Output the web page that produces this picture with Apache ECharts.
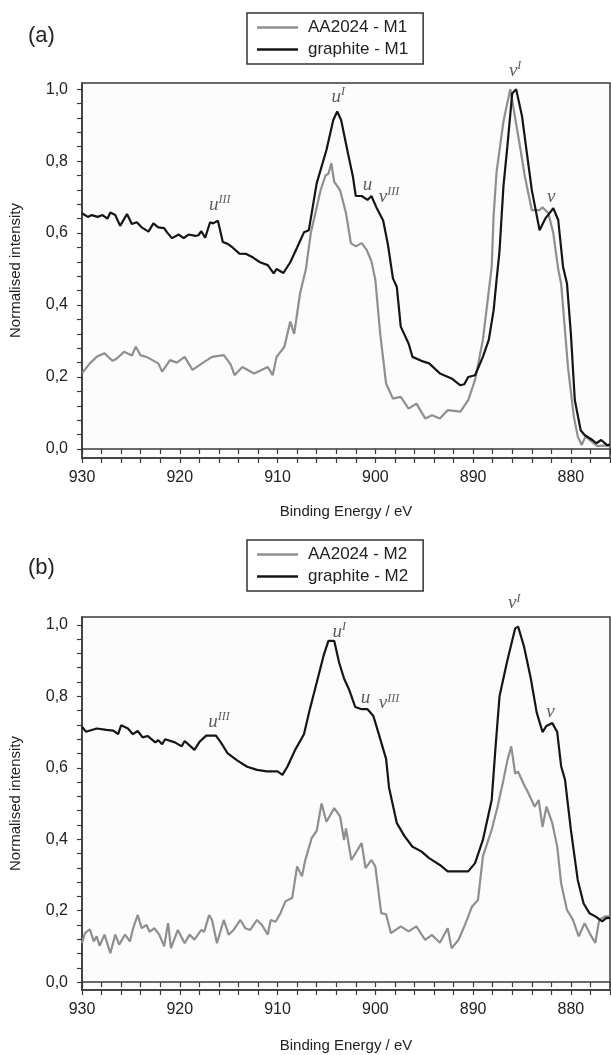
<!DOCTYPE html>
<html>
<head>
<meta charset="utf-8">
<script src="https://cdn.jsdelivr.net/npm/echarts@6/dist/echarts.min.js"></script>
<style>
html, body { margin: 0; padding: 0; background: #fff; }
#container { width: 611px; height: 1055px; }
</style>
</head>
<body>
<div id="container"></div>
<script>
// binding energy (eV), normalised intensity
var aaM1 = [
  [930,0.21],[929.2,0.238],[928.5,0.256],[927.7,0.266],[926.9,0.245],[926.5,0.25],[925.7,0.27],[924.9,0.26],
  [924.5,0.284],[924,0.26],[923.4,0.256],[922.2,0.238],[921.8,0.215],[921,0.247],[920.3,0.24],[919.5,0.256],
  [918.7,0.22],[917.5,0.242],[916.7,0.256],[915.5,0.261],[914.8,0.235],[914.4,0.205],[913.6,0.228],[912.4,0.21],
  [911,0.228],[910.5,0.205],[910.1,0.256],[909.3,0.284],[908.7,0.354],[908.3,0.32],[907.7,0.432],[907.1,0.5],
  [906.6,0.6],[905.6,0.719],[905.1,0.76],[904.8,0.765],[904.5,0.794],[904.2,0.742],[903.6,0.719],[903,0.655],
  [902.5,0.572],[902,0.563],[901.4,0.572],[900.9,0.554],[900.4,0.522],[900,0.47],[899.5,0.32],[898.9,0.182],
  [898.2,0.14],[897.4,0.145],[896.6,0.112],[895.8,0.126],[894.9,0.085],[894.2,0.094],[893.4,0.085],[892.6,0.108],
  [891.3,0.104],[890.5,0.136],[889.8,0.192],[889,0.303],[888.1,0.506],[887.9,0.65],[887.6,0.77],[886.9,0.91],
  [886.2,1.0],[885.2,0.84],[884.7,0.756],[884,0.664],[883.2,0.664],[882.9,0.672],[882.3,0.655],[881.8,0.6],
  [881.3,0.5],[881,0.46],[880.3,0.228],[879.7,0.09],[879.3,0.035],[878.9,0.011],[878.5,0.035],[877.9,0.021],
  [877.3,0.008],[876.5,0.01],[876,0.008]
];
var graphiteM1 = [
  [930,0.655],[929.4,0.645],[929,0.65],[928.4,0.645],[927.9,0.65],[927.4,0.64],[927.1,0.657],[926.6,0.65],
  [926.4,0.655],[926.1,0.62],[925.4,0.653],[924.9,0.625],[924.4,0.63],[923.9,0.616],[923.2,0.604],[922.7,0.627],
  [922.2,0.616],[921.6,0.614],[921.3,0.602],[920.8,0.586],[920.1,0.596],[919.6,0.586],[919.1,0.596],[918.4,0.592],
  [918.1,0.594],[917.8,0.605],[917.4,0.587],[916.9,0.63],[916.6,0.627],[916.1,0.634],[915.6,0.575],[915.1,0.57],
  [914.6,0.56],[913.9,0.543],[913.2,0.542],[912.5,0.532],[911.8,0.519],[911,0.511],[910.4,0.488],[910.1,0.5],
  [909.4,0.489],[908.7,0.519],[908,0.56],[907.3,0.602],[906.8,0.608],[906,0.738],[905,0.831],[904.3,0.914],
  [903.9,0.938],[903.5,0.914],[902.8,0.822],[902.3,0.758],[902,0.703],[901.4,0.703],[900.8,0.692],[900.4,0.703],
  [899.9,0.672],[899.2,0.635],[898.7,0.566],[898.2,0.474],[897.8,0.45],[897.4,0.34],[896.6,0.293],[896.2,0.256],
  [895.3,0.245],[894.5,0.238],[893.4,0.21],[892.2,0.196],[891.3,0.177],[890.9,0.18],[890.5,0.2],[889.8,0.205],
  [889,0.256],[888.4,0.303],[887.9,0.386],[887.6,0.47],[887.3,0.55],[886.9,0.729],[886.5,0.84],[886,0.988],
  [885.6,1.0],[885,0.925],[884.5,0.822],[884,0.72],[883.2,0.608],[882.6,0.641],[881.8,0.669],[881.3,0.637],
  [880.8,0.506],[880.4,0.46],[880,0.32],[879.6,0.136],[879,0.052],[878.6,0.039],[877.8,0.025],[877.4,0.016],
  [876.9,0.025],[876.3,0.011],[876,0.012]
];
var aaM2 = [
  [930,0.109],[929.7,0.137],[929.2,0.148],[928.8,0.114],[928.5,0.128],[928.2,0.102],[927.7,0.133],[927.1,0.081],
  [926.6,0.133],[926.2,0.105],[925.6,0.133],[925.1,0.114],[924.8,0.148],[924.3,0.188],[923.9,0.151],[923.4,0.16],
  [923.1,0.141],[922.6,0.151],[922.1,0.133],[921.6,0.1],[921.2,0.165],[920.9,0.095],[920.2,0.146],[919.5,0.109],
  [919,0.133],[918.5,0.119],[917.8,0.146],[917.5,0.141],[917,0.188],[916.7,0.174],[916.2,0.109],[915.5,0.174],
  [915,0.133],[914.5,0.146],[913.8,0.174],[913.3,0.151],[912.8,0.146],[912.1,0.174],[911.6,0.16],[911,0.133],
  [910.7,0.174],[910.2,0.169],[909.7,0.193],[909.2,0.226],[908.5,0.236],[908,0.324],[907.5,0.296],[907.2,0.338],
  [906.5,0.404],[906,0.423],[905.5,0.5],[905,0.449],[904.2,0.487],[903.6,0.463],[903.2,0.398],[903,0.43],
  [902.45,0.342],[901.4,0.389],[901,0.319],[900.4,0.342],[900,0.324],[899.4,0.193],[898.9,0.19],[898.4,0.137],
  [897.4,0.156],[896.6,0.142],[895.8,0.156],[894.9,0.118],[894.2,0.132],[893.4,0.11],[892.6,0.151],[892.2,0.095],
  [891.5,0.118],[890.9,0.156],[890.1,0.212],[889.5,0.23],[889,0.352],[888.1,0.426],[887.5,0.491],[886.9,0.566],
  [886.5,0.62],[886.1,0.66],[885.7,0.584],[885.4,0.589],[884.7,0.547],[884.5,0.538],[883.7,0.491],[883.3,0.51],
  [882.9,0.435],[882.5,0.491],[881.9,0.445],[881.4,0.38],[881,0.277],[880.4,0.202],[879.8,0.175],[879.2,0.128],
  [878.6,0.165],[877.9,0.128],[877.5,0.11],[877.1,0.175],[876.5,0.184],[876,0.184]
];
var graphiteM2 = [
  [930,0.715],[929.6,0.701],[928.5,0.71],[927.5,0.706],[926.8,0.704],[926.3,0.694],[926,0.719],[925.3,0.71],
  [924.8,0.694],[924.3,0.703],[923.8,0.685],[923.3,0.689],[922.5,0.671],[922.2,0.677],[921.8,0.666],[921.5,0.68],
  [920.5,0.671],[919.8,0.66],[919.5,0.675],[918.5,0.65],[918,0.672],[917.3,0.69],[916.3,0.69],[915.8,0.671],
  [915.1,0.64],[914.1,0.62],[913.1,0.603],[912.1,0.594],[911.1,0.59],[910,0.59],[909.5,0.58],[909,0.603],
  [908.2,0.65],[907.3,0.694],[906.7,0.764],[906,0.838],[905.3,0.913],[904.8,0.955],[904.2,0.955],[903.7,0.894],
  [903.2,0.85],[902.7,0.82],[902.05,0.77],[901.4,0.764],[900.8,0.764],[900.2,0.745],[899.6,0.69],[898.9,0.625],
  [898.6,0.545],[897.8,0.445],[897,0.408],[896.2,0.379],[895.3,0.366],[894.5,0.347],[893.4,0.328],[892.6,0.31],
  [891.3,0.31],[890.5,0.31],[889.8,0.333],[889,0.398],[888.1,0.51],[887.7,0.66],[887.3,0.8],[886.5,0.9],
  [885.7,0.99],[885.4,0.995],[884.8,0.94],[884.1,0.85],[883.5,0.755],[882.9,0.7],[882.5,0.717],[881.9,0.725],
  [881.4,0.7],[881,0.605],[880.6,0.566],[880,0.426],[879.3,0.286],[878.7,0.22],[878.1,0.193],[877.5,0.184],
  [876.8,0.17],[876.4,0.179],[876,0.18]
];

// peak labels: letter, superscript, energy, intensity
var notesM1 = [['u','III',915.9,0.678],['u','I',903.8,0.979],['u','',900.8,0.733],['v','III',898.6,0.7],['v','I',885.7,1.05],['v','',882,0.7]];
var notesM2 = [['u','III',916,0.729],['u','I',903.7,0.981],['u','',901,0.795],['v','III',898.6,0.78],['v','I',885.8,1.06],['v','',882.1,0.757]];

var xTickValues = [930,928,926,924,922,920,918,916,914,912,910,908,906,904,902,900,898,896,894,892,890,888,886,884,882,880,878,876];
var xLabelValues = [930,920,910,900,890,880];
var yTickValues = [0,0.04,0.08,0.12,0.16,0.2,0.24,0.28,0.32,0.36,0.4,0.44,0.48,0.52,0.56,0.6,0.64,0.68,0.72,0.76,0.8,0.84,0.88,0.92,0.96,1.0];
var yLabelValues = [0,0.2,0.4,0.6,0.8,1.0];

var dom = document.getElementById('container');
var myChart = echarts.init(dom);

var sans = 'Liberation Sans';
var axisColor = '#3a3a3a';
var grey = '#8f8f8f';
var black = '#151515';

function bottomAxis(gi, gap) {
  return {
    type: 'value', gridIndex: gi, inverse: true, min: 876, max: 930,
    name: 'Binding Energy / eV', nameLocation: 'middle', nameGap: gap,
    nameTextStyle: { fontFamily: sans, fontSize: 15, color: '#222' },
    axisLine: { show: true, onZero: false, lineStyle: { color: axisColor, width: 1.5 } },
    axisTick: { show: true, length: 5, customValues: xTickValues, lineStyle: { color: axisColor, width: 1.2 } },
    axisLabel: { customValues: xLabelValues, margin: 12, fontFamily: sans, fontSize: 16, color: '#222' },
    splitLine: { show: false }
  };
}
function topAxis(gi) {
  return {
    type: 'value', gridIndex: gi, position: 'top', inverse: true, min: 876, max: 930,
    axisLine: { show: true, lineStyle: { color: axisColor, width: 1.5 } },
    axisTick: { show: true, inside: true, length: 5, customValues: xTickValues, lineStyle: { color: axisColor, width: 1.2 } },
    axisLabel: { show: false },
    splitLine: { show: false }
  };
}
function leftAxis(gi, lo, hi) {
  return {
    type: 'value', gridIndex: gi, min: lo, max: hi,
    name: 'Normalised intensity', nameLocation: 'middle', nameGap: 59,
    nameTextStyle: { fontFamily: sans, fontSize: 15, color: '#222' },
    axisLine: { show: true, lineStyle: { color: axisColor, width: 1.5 } },
    axisTick: { show: true, length: 5, customValues: yTickValues, lineStyle: { color: axisColor, width: 1.2 } },
    axisLabel: {
      customValues: yLabelValues, margin: 14, fontFamily: sans, fontSize: 16, color: '#222',
      formatter: function (v) { return v.toFixed(1).replace('.', ','); }
    },
    splitLine: { show: false }
  };
}
function lineSeries(name, data, color, axisIdx) {
  return {
    name: name, type: 'line', xAxisIndex: axisIdx, yAxisIndex: axisIdx / 2,
    data: data, symbol: 'none', smooth: false,
    lineStyle: { color: color, width: 2.2 }, itemStyle: { color: color },
    animation: false
  };
}
function noteSeries(notes, axisIdx) {
  return {
    type: 'scatter', xAxisIndex: axisIdx, yAxisIndex: axisIdx / 2, silent: true, clip: false,
    symbolSize: 0, animation: false,
    data: notes.map(function (n) { return [n[2], n[3]]; }),
    label: {
      show: true, position: 'inside',
      formatter: function (p) {
        var n = notes[p.dataIndex];
        return '{b|' + n[0] + '}' + (n[1] ? '{s|' + n[1] + '}' : '');
      },
      rich: {
        b: { fontFamily: 'Liberation Serif', fontStyle: 'italic', fontSize: 19, color: '#333', lineHeight: 22 },
        s: { fontFamily: 'Liberation Serif', fontStyle: 'italic', fontSize: 12, color: '#333', lineHeight: 22, verticalAlign: 'top' }
      }
    }
  };
}
function legendBox(names, top) {
  return {
    data: names, orient: 'vertical', left: 247, top: top,
    icon: 'rect', itemWidth: 41, itemHeight: 2.5, itemGap: 5, padding: [6, 15, 6, 10],
    borderColor: '#333', borderWidth: 1.5, backgroundColor: '#fff',
    textStyle: { fontFamily: sans, fontSize: 17, color: '#222', padding: [0, 0, 0, 5] }
  };
}

option = {
  backgroundColor: '#fff',
  title: [
    { text: '(a)', left: 23, top: 20, textStyle: { fontFamily: sans, fontSize: 22, fontWeight: 'normal', color: '#222' } },
    { text: '(b)', left: 23, top: 552, textStyle: { fontFamily: sans, fontSize: 22, fontWeight: 'normal', color: '#222' } }
  ],
  legend: [
    legendBox(['AA2024 - M1', 'graphite - M1'], 13),
    legendBox(['AA2024 - M2', 'graphite - M2'], 540)
  ],
  grid: [
    { left: 79, top: 83, width: 531, height: 375, show: true, borderColor: axisColor, borderWidth: 1.5, backgroundColor: '#fcfcfc' },
    { left: 79, top: 617, width: 531, height: 373, show: true, borderColor: axisColor, borderWidth: 1.5, backgroundColor: '#fcfcfc' }
  ],
  xAxis: [bottomAxis(0, 46), topAxis(0), bottomAxis(1, 48), topAxis(1)],
  yAxis: [leftAxis(0, -0.025, 1.017), leftAxis(1, -0.022, 1.022)],
  series: [
    lineSeries('AA2024 - M1', aaM1, grey, 0),
    lineSeries('graphite - M1', graphiteM1, black, 0),
    noteSeries(notesM1, 0),
    lineSeries('AA2024 - M2', aaM2, grey, 2),
    lineSeries('graphite - M2', graphiteM2, black, 2),
    noteSeries(notesM2, 2)
  ]
};

if (option && typeof option === 'object') {
  myChart.setOption(option, true);
}
</script>
</body>
</html>
